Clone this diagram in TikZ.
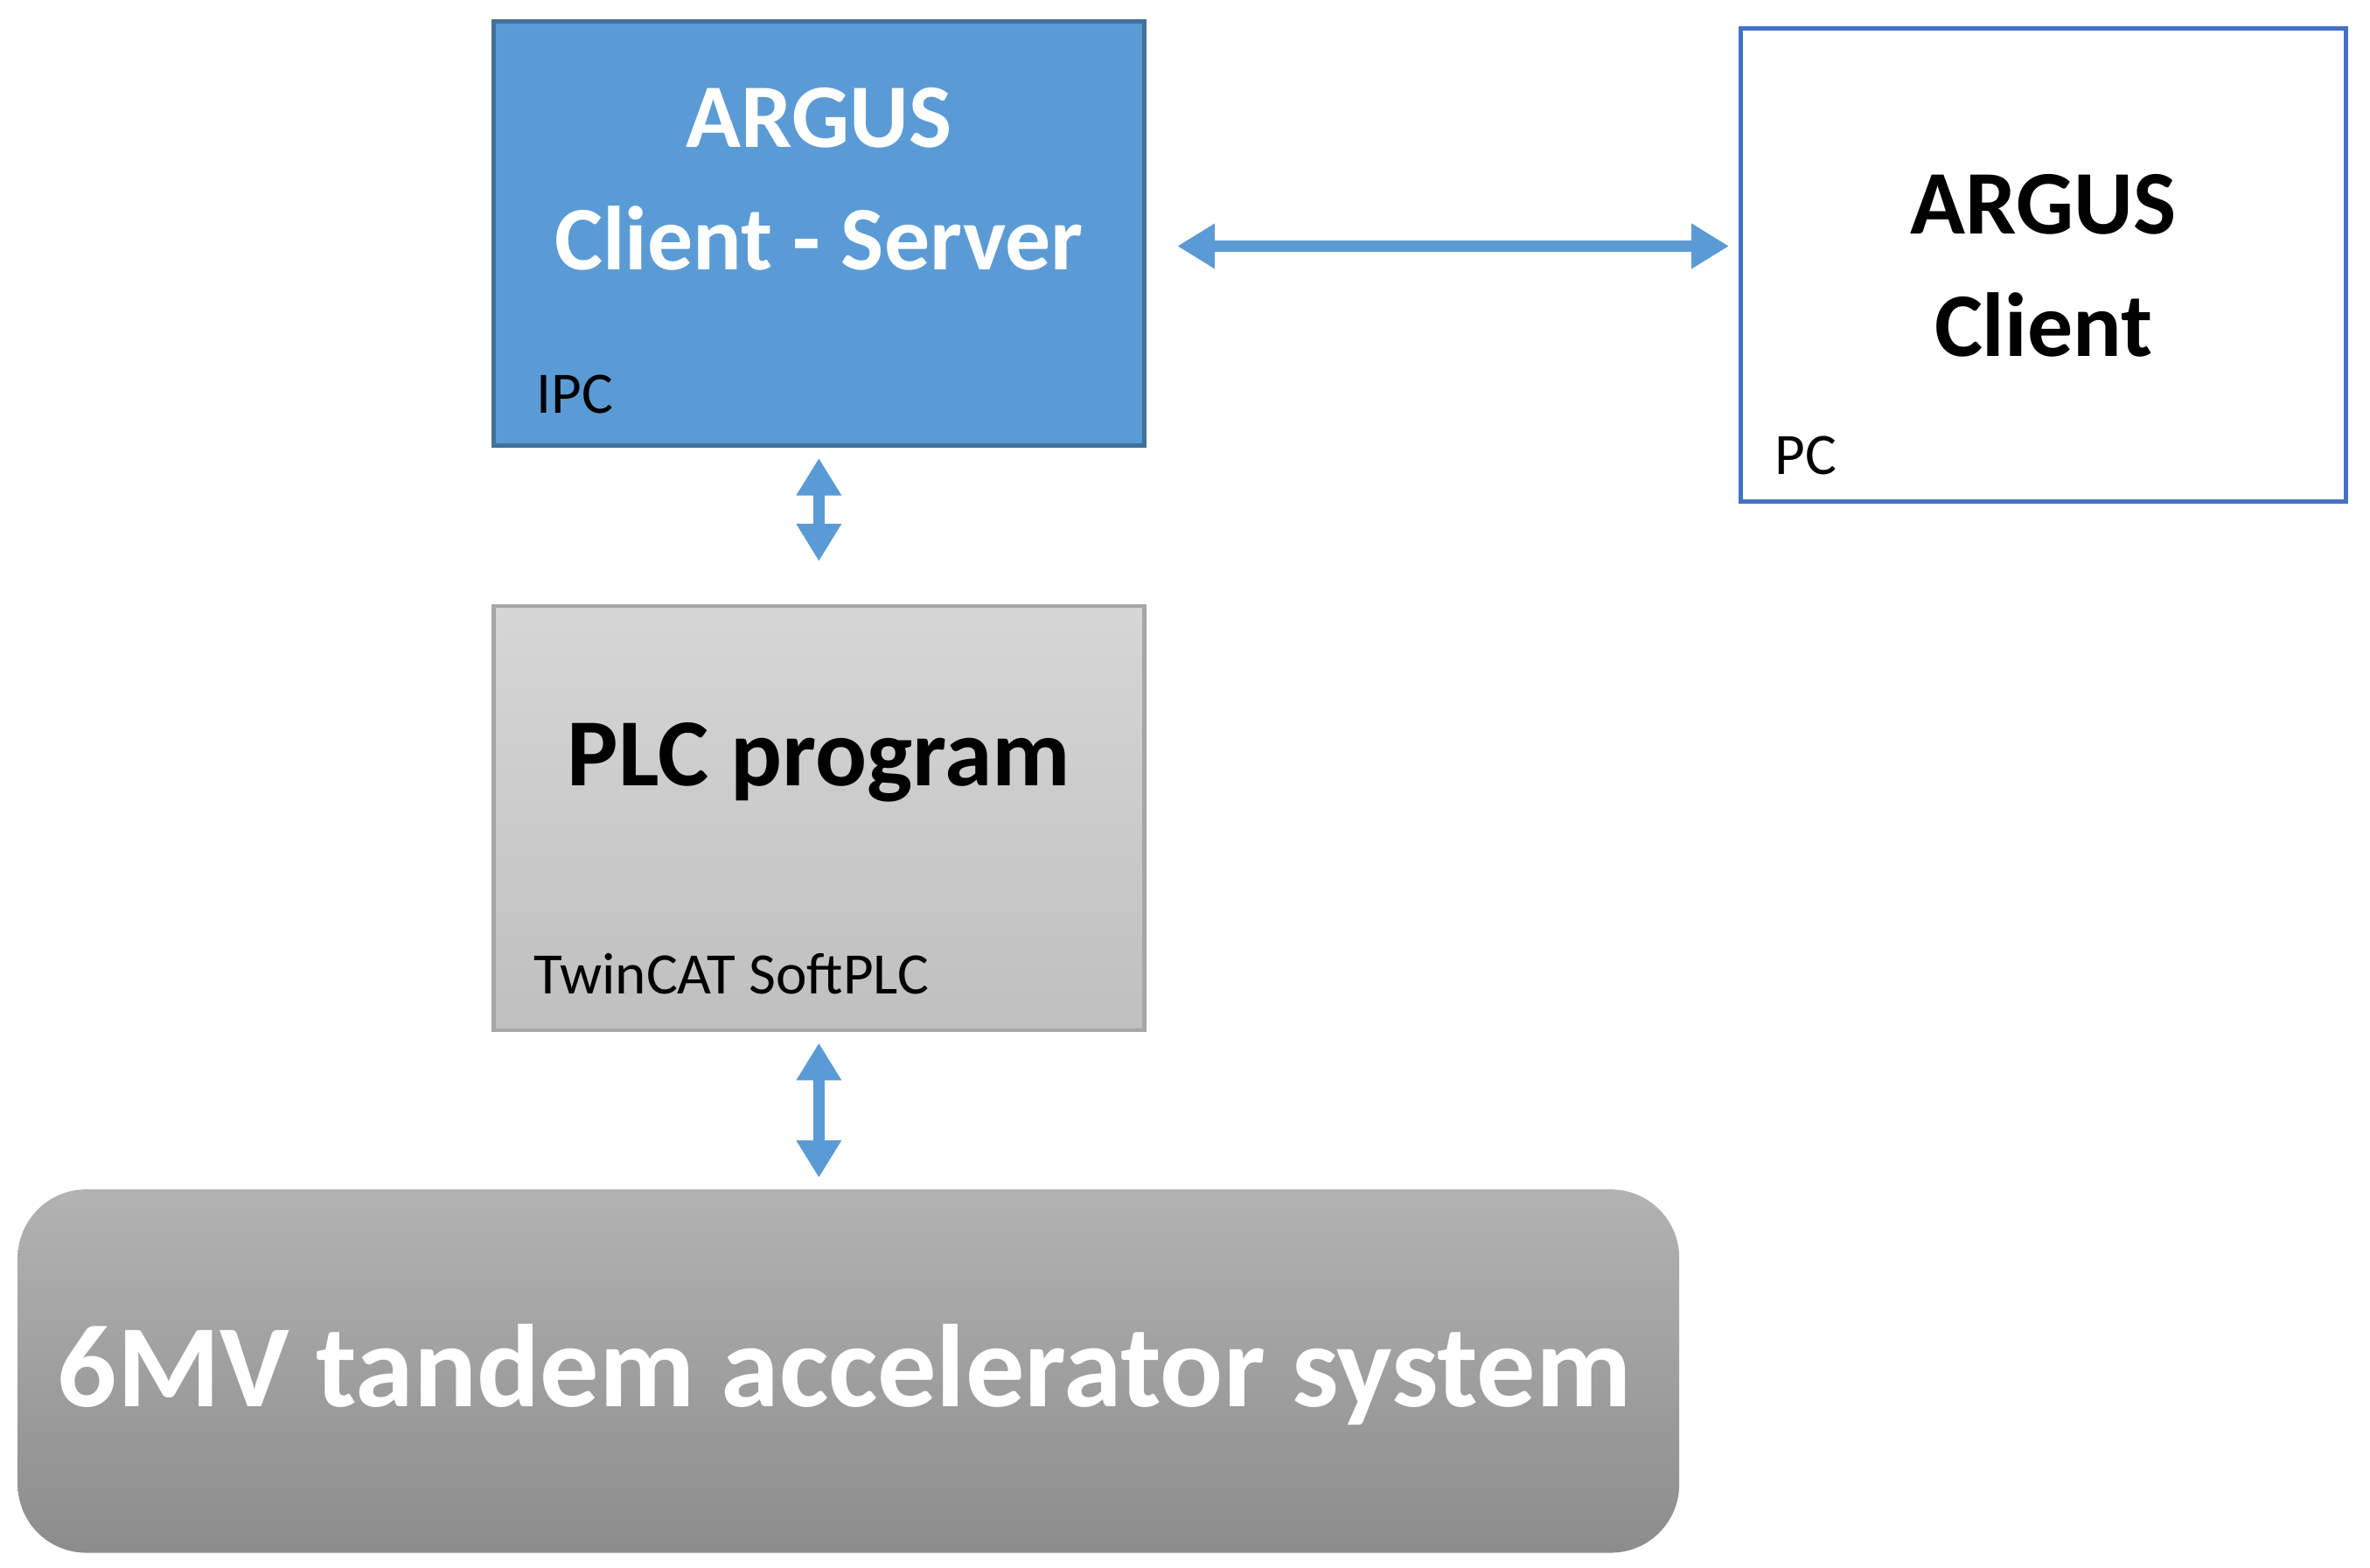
\documentclass[tikz,border=0pt]{standalone}
\usepackage{fontspec}
\setmainfont{Carlito}
\usetikzlibrary{arrows.meta}
\definecolor{blu}{HTML}{5B9BD5}
\definecolor{bluB}{HTML}{41719C}
\definecolor{pcB}{HTML}{4472C4}
\begin{document}
\begin{tikzpicture}[x=0.01cm,y=-0.01cm,
  big/.style={font=\fontsize{17}{21}\selectfont\bfseries,align=center},
  small/.style={font=\fontsize{11}{13}\selectfont,anchor=base west},
  conn/.style={blu,line width=2.2pt,{Triangle[width=8pt,length=7pt]}-{Triangle[width=8pt,length=7pt]}}]
\useasboundingbox (0,0) rectangle (1560,1032);
\node[draw=bluB,fill=blu,line width=0.8pt,minimum width=4.28cm,minimum height=2.79cm,inner sep=0] (ipc) at (539,153.5) {};
\node[big,text=white] (t1) at (539,118) {ARGUS\\[2pt]Client - Server};
\node[small] (l1) at (341,272) {IPC};
\node[draw=pcB,fill=white,line width=0.8pt,minimum width=3.98cm,minimum height=3.11cm,inner sep=0] (pc) at (1345,174.5) {};
\node[big] (t2) at (1345,175) {ARGUS\\[2pt]Client};
\node[small] (l2) at (1156,312) {PC};
\node[draw=gray!70,top color=black!16,bottom color=black!25,line width=0.8pt,minimum width=4.28cm,minimum height=2.79cm,inner sep=0] (plc) at (539,538.5) {};
\node[big,font=\fontsize{18}{21}\selectfont\bfseries] (t3) at (539,502) {PLC program};
\node[small] (l3) at (339,654) {TwinCAT SoftPLC};
\node[rounded corners=0.45cm,top color=black!30,bottom color=black!45,minimum width=10.93cm,minimum height=2.39cm,inner sep=0] (acc) at (558.5,902.5) {};
\node[font=\fontsize{22}{26}\selectfont\bfseries,text=white] (t4) at (556,905) {6MV tandem accelerator system};
\coordinate (a1) at (775,162);
\coordinate (a2) at (1138,162);
\draw[conn] (a1) -- (a2);
\draw[conn] ([yshift=-2pt]ipc.south) -- ([yshift=8pt]plc.north);
\draw[conn] ([yshift=-2pt]plc.south) -- ([yshift=2pt]acc.north -| plc.south);
\end{tikzpicture}
\end{document}
